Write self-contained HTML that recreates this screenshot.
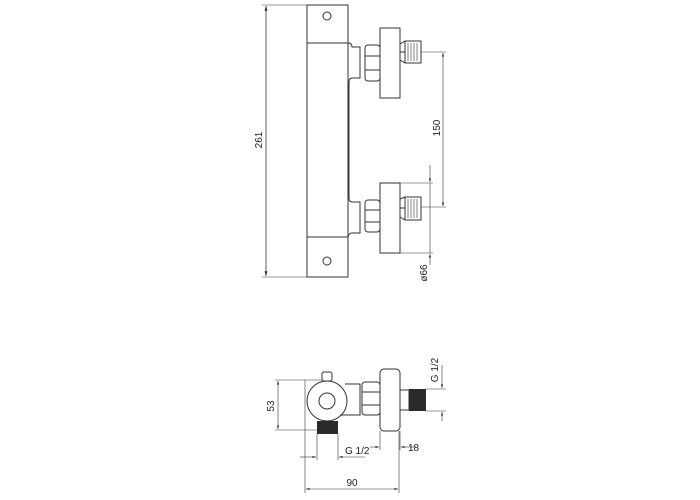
<!DOCTYPE html>
<html><head><meta charset="utf-8"><style>
html,body{margin:0;padding:0;background:#fff}
svg{display:block}
text{font-family:"Liberation Sans",sans-serif;font-size:10px;fill:#222}
</style></head><body>
<svg width="700" height="500" viewBox="0 0 700 500" xmlns="http://www.w3.org/2000/svg">
<defs>
<marker id="a" viewBox="0 0 10 10" refX="10" refY="5" markerWidth="6" markerHeight="6" orient="auto-start-reverse"><path d="M0,2 L10,5 L0,8 z" fill="#222"/></marker>
</defs>
<g fill="none" stroke="#333" stroke-width="1">
<!-- top view -->
<line x1="266" y1="6" x2="266" y2="276" marker-start="url(#a)" marker-end="url(#a)" stroke-width="0.8"/>
<line x1="262" y1="5" x2="307" y2="5" stroke-width="0.6"/>
<line x1="262" y1="277" x2="307" y2="277" stroke-width="0.6"/>
<rect x="307" y="5" width="41" height="272"/>
<line x1="307" y1="43" x2="348" y2="43"/>
<line x1="307" y1="237" x2="348" y2="237"/>
<circle cx="327" cy="16" r="4"/>
<circle cx="327" cy="261" r="4"/>
<path d="M348,43 Q352,43 352,47 L360,47 L360,78 L352,78 Q349,78 349,82 L349,198 Q349,202 352,202 L360,202 L360,233 L352,233 Q349,233 348,237"/>
<!-- upper fitting -->
<rect x="365" y="45" width="15" height="36" rx="3"/>
<line x1="365" y1="56" x2="380" y2="56"/><line x1="365" y1="70" x2="380" y2="70"/>
<rect x="380" y="28" width="20" height="70"/>
<line x1="400" y1="44" x2="405" y2="41"/><line x1="400" y1="52" x2="405" y2="52"/><line x1="400" y1="60" x2="405" y2="63"/>
<rect x="405" y="41" width="16" height="22"/>
<g stroke-width="0.6"><line x1="408" y1="43" x2="408" y2="61"/><line x1="411" y1="43" x2="411" y2="61"/><line x1="414" y1="43" x2="414" y2="61"/><line x1="417" y1="43" x2="417" y2="61"/></g>
<!-- lower fitting -->
<rect x="365" y="200" width="15" height="32" rx="3"/>
<line x1="365" y1="210" x2="380" y2="210"/><line x1="365" y1="222" x2="380" y2="222"/>
<rect x="380" y="183" width="20" height="70"/>
<line x1="400" y1="199" x2="405" y2="197"/><line x1="400" y1="208" x2="405" y2="208"/><line x1="400" y1="217" x2="405" y2="220"/>
<rect x="405" y="197" width="16" height="23"/>
<g stroke-width="0.6"><line x1="408" y1="199" x2="408" y2="218"/><line x1="411" y1="199" x2="411" y2="218"/><line x1="414" y1="199" x2="414" y2="218"/><line x1="417" y1="199" x2="417" y2="218"/></g>
<!-- 150 dim -->
<g stroke-width="0.6">
<line x1="421" y1="52" x2="446" y2="52"/><line x1="421" y1="207" x2="446" y2="207"/>
<line x1="443" y1="53" x2="443" y2="206" marker-start="url(#a)" marker-end="url(#a)"/>
<line x1="400" y1="183" x2="433" y2="183"/><line x1="400" y1="253" x2="433" y2="253"/>
<line x1="430" y1="165" x2="430" y2="182" marker-end="url(#a)"/>
<line x1="430" y1="254" x2="430" y2="265" marker-start="url(#a)"/>
<line x1="430" y1="183" x2="430" y2="253"/>
</g>
<!-- bottom view -->
<circle cx="327" cy="401" r="20"/>
<circle cx="327" cy="401" r="8"/>
<rect x="322" y="372" width="10" height="9" rx="2"/>
<path d="M345,384 L360,384 L360,415 L340,415"/>
<rect x="362" y="382" width="18" height="33" rx="3"/>
<line x1="362" y1="392" x2="380" y2="392"/><line x1="362" y1="405" x2="380" y2="405"/>
<rect x="380" y="369" width="20" height="62" rx="4"/>
<rect x="400" y="390" width="9" height="20"/>
</g>
<rect x="409" y="389" width="17" height="22" fill="#2a2a2a"/>
<rect x="317" y="421" width="21" height="13" fill="#2a2a2a"/>
<g fill="none" stroke="#333" stroke-width="0.6">
<line x1="275" y1="380" x2="322" y2="380"/><line x1="275" y1="430" x2="317" y2="430"/>
<line x1="278" y1="381" x2="278" y2="429" marker-start="url(#a)" marker-end="url(#a)"/>
<line x1="317" y1="434" x2="317" y2="460"/><line x1="338" y1="434" x2="338" y2="460"/>
<line x1="300" y1="457" x2="316" y2="457" marker-end="url(#a)"/>
<line x1="339" y1="457" x2="365" y2="457" marker-start="url(#a)"/>
<line x1="380" y1="431" x2="380" y2="450"/><line x1="400" y1="431" x2="400" y2="450"/>
<line x1="370" y1="447" x2="379" y2="447" marker-end="url(#a)"/>
<line x1="401" y1="447" x2="415" y2="447" marker-start="url(#a)"/>
<line x1="305" y1="380" x2="305" y2="493"/><line x1="399" y1="431" x2="399" y2="493"/>
<line x1="306" y1="489" x2="398" y2="489" marker-start="url(#a)" marker-end="url(#a)"/>
<line x1="426" y1="389" x2="446" y2="389"/><line x1="426" y1="411" x2="446" y2="411"/>
<line x1="442" y1="365" x2="442" y2="388" marker-end="url(#a)"/>
<line x1="442" y1="412" x2="442" y2="421" marker-start="url(#a)"/>
</g>
<text transform="translate(262,140) rotate(-90)" text-anchor="middle">261</text>
<text transform="translate(440,128) rotate(-90)" text-anchor="middle">150</text>
<text transform="translate(427,273) rotate(-90)" text-anchor="middle" font-size="9">ø66</text>
<text transform="translate(274,406) rotate(-90)" text-anchor="middle">53</text>
<text x="345" y="454">G 1/2</text>
<text x="408" y="451">18</text>
<text x="352" y="486" text-anchor="middle">90</text>
<text transform="translate(438,370) rotate(-90)" text-anchor="middle">G 1/2</text>
</svg>
</body></html>
